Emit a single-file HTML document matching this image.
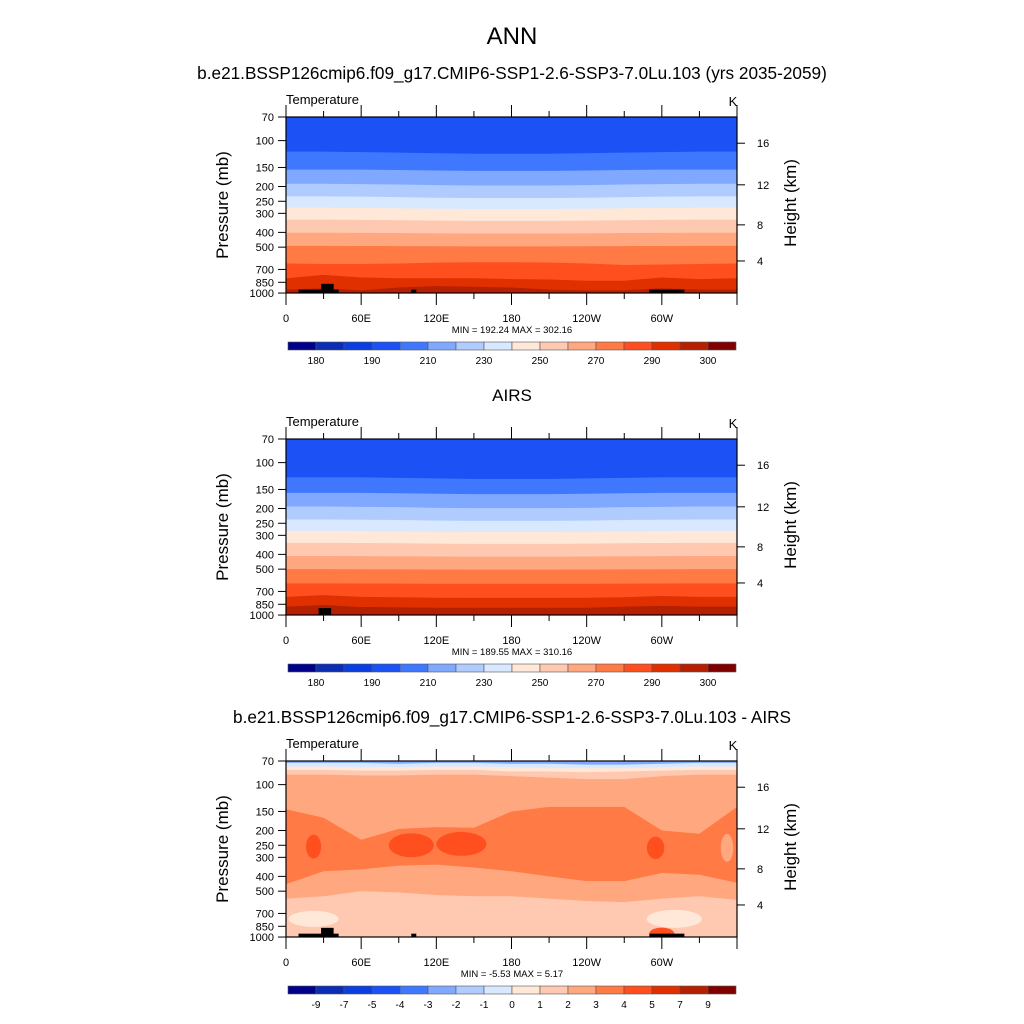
<!DOCTYPE html>
<html><head><meta charset="utf-8">
<style>
body{margin:0;background:#fff;}
svg{display:block;font-family:"Liberation Sans",sans-serif;}
</style></head>
<body>
<svg id="fig" width="1024" height="1024" viewBox="0 0 1024 1024" xmlns="http://www.w3.org/2000/svg">
<rect width="1024" height="1024" fill="#fff"/>
<text x="512" y="44" font-size="24" text-anchor="middle">ANN</text>
<text x="512" y="79" font-size="17.2" text-anchor="middle">b.e21.BSSP126cmip6.f09_g17.CMIP6-SSP1-2.6-SSP3-7.0Lu.103 (yrs 2035-2059)</text>
<text x="512" y="401" font-size="17" text-anchor="middle">AIRS</text>
<text x="512" y="723" font-size="17.2" text-anchor="middle">b.e21.BSSP126cmip6.f09_g17.CMIP6-SSP1-2.6-SSP3-7.0Lu.103 - AIRS</text>
</svg>
<script>
// ---- data ----
const colors = ["#00008a","#0a2db4","#0a3ee0","#1c52f5","#3f78ff","#80a8ff","#b0ccff","#d8e8ff","#ffe8d8","#ffc8b0","#ffa880","#ff7a45","#ff4f1e","#e03000","#b52000","#800000"];
const tempLabels = ["180","190","210","230","250","270","290","300"];
const tempLabelIdx = [1,3,5,7,9,11,13,15];
const diffLabels = ["-9","-7","-5","-4","-3","-2","-1","0","1","2","3","4","5","7","9"];
const pTicks = [70,100,150,200,250,300,400,500,700,850,1000];
const hTicks = [16,12,8,4];
const hTickP = [104,195,357,616];
const lonTicks = [0,60,120,180,240,300];
const lonLabels = ["0","60E","120E","180","120W","60W"];
const lons = [0,30,60,90,120,150,180,210,240,270,300,330,360];
// panel 1 band boundaries (pressure, mb)
const p1Idx = [4,5,6,7,8,9,10,11,12,13,14];
const p1B = [
 [118,118,119,120,121,122,122,122,121,120,119,118,118],
 [155,155,155,156,157,158,158,158,157,156,155,155,155],
 [192,192,193,194,196,197,197,197,196,194,193,192,192],
 [232,232,233,235,237,238,238,238,237,235,233,232,232],
 [275,275,276,278,280,281,281,281,280,278,276,275,275],
 [330,330,331,333,335,336,336,336,335,333,331,330,330],
 [402,402,403,404,406,407,407,407,406,404,403,402,402],
 [490,490,491,492,493,494,494,494,493,492,491,490,490],
 [640,645,645,640,632,628,628,630,640,655,650,645,640],
 [800,760,790,800,800,800,810,815,830,830,790,810,800],
 [950,930,960,920,900,910,920,950,960,960,930,950,950]];
const p1Min = "MIN = 192.24  MAX = 302.16";
// panel 2
const p2Idx = [4,5,6,7,8,9,10,11,12,13,14];
const p2B = [
 [125,125,125,126,127,128,128,128,127,126,125,125,125],
 [158,158,158,159,160,161,161,161,160,159,158,158,158],
 [194,194,195,196,198,199,199,199,198,196,195,194,194],
 [236,236,237,238,240,241,241,241,240,238,237,236,236],
 [280,280,281,282,284,285,285,285,284,282,281,280,280],
 [336,336,337,338,340,341,341,341,340,338,337,336,336],
 [410,410,411,412,413,414,414,414,413,412,411,410,410],
 [500,500,501,502,503,504,504,504,503,502,501,500,500],
 [620,620,621,622,624,625,625,625,624,622,621,620,620],
 [760,740,760,765,770,772,772,772,770,765,750,760,760],
 [880,860,885,890,895,895,895,895,895,880,870,880,880]];
const p2Min = "MIN = 189.55  MAX = 310.16";
// panel 3 (difference)
const p3TopIdx = [6,7,8,9,10];
const p3TopB = [
 [72,72,72,73,72,72,73,73,74,74,73,72,72],
 [76,76,77,77,76,76,77,78,78,78,77,76,76],
 [80,80,81,81,80,80,82,82,83,82,81,80,80],
 [86,86,87,87,86,86,88,90,92,92,88,86,86]];
const p3MidTop = [145,165,230,195,190,192,150,140,140,140,200,210,140];
const p3MidBot = [450,370,360,340,335,350,370,400,430,430,380,390,440];
const p3LowTop = [560,540,500,510,530,540,540,560,580,590,560,540,570];
const blobLon = [22,100,140,295,352];
const blobP = [255,250,245,260,260];
const blobW = [6,18,20,7,5];
const blobH = [30,30,30,28,35];
const blobIdx = [12,12,12,12,10];
const p3Min = "MIN =  -5.53  MAX =   5.17";

// ---- helpers ----
const NS="http://www.w3.org/2000/svg";
const svg=document.getElementById('fig');
const X0=286,X1=737,H=176;
const xs=l=>X0+(X1-X0)*l/360;
function ys(top){return p=>top+66.2*Math.log(p/70);}
function el(t,a,parent){const e=document.createElementNS(NS,t);for(const k in a)e.setAttribute(k,a[k]);(parent||svg).appendChild(e);return e;}

function drawPanel(top,cbTop,kind,mins){
  const y=ys(top);
  const g=el('g',{});
  
  
  const cp=el('clipPath',{id:'cp'+top},g);
  el('rect',{x:X0,y:top,width:X1-X0,height:H},cp);
  const fg=el('g',{'clip-path':'url(#cp'+top+')'},g);
  function band(arr,ci,bottomArr){
    let d='M'+xs(lons[0])+','+y(arr[0]);
    for(let i=1;i<lons.length;i++)d+=' L'+xs(lons[i])+','+y(arr[i]);
    if(bottomArr){for(let i=lons.length-1;i>=0;i--)d+=' L'+xs(lons[i])+','+y(bottomArr[i]);}
    else d+=' L'+X1+','+(top+H+2)+' L'+X0+','+(top+H+2);
    const p=el('path',{d:d+'Z',fill:colors[ci]},fg);
    
    
  }
  if(kind!=='diff'){
    const B=kind==='model'?p1B:p2B, I=kind==='model'?p1Idx:p2Idx;
    el('rect',{x:X0,y:top,width:X1-X0,height:H,fill:colors[3]},fg);
    B.forEach((a,i)=>band(a,I[i]));
  } else {
    el('rect',{x:X0,y:top,width:X1-X0,height:H,fill:colors[5]},fg);
    p3TopB.forEach((a,i)=>band(a,p3TopIdx[i+1]));
    band(p3MidTop,11,p3MidBot);
    band(p3LowTop,9);
    blobLon.forEach((l,i)=>{
      const e=el('ellipse',{cx:xs(l),cy:y(blobP[i]),rx:xs(blobW[i])-X0,ry:12*blobH[i]/30,fill:colors[blobIdx[i]]},fg);
      
      
    });
    el('ellipse',{cx:xs(22),cy:y(760),rx:xs(20)-X0,ry:8,fill:colors[8]},fg);
    el('ellipse',{cx:xs(310),cy:y(760),rx:xs(22)-X0,ry:9,fill:colors[8]},fg);
    el('ellipse',{cx:xs(300),cy:y(950),rx:xs(10)-X0,ry:6,fill:colors[12]},fg);
  }
  const topo=kind==='obs'?[[26,36,900]]:[[10,42,950],[28,38,870],[100,104,950],[290,318,950]];
  topo.forEach(t=>{const r=el('rect',{x:xs(t[0]),y:y(t[2]),width:xs(t[1])-xs(t[0]),height:top+H-y(t[2]),fill:'#000'},fg);
    });
  el('rect',{x:X0,y:top,width:X1-X0,height:H,fill:'none',stroke:'#000','stroke-width':1.2},g);
  pTicks.forEach(p=>{el('line',{x1:X0-8,x2:X0,y1:y(p),y2:y(p),stroke:'#000'},g);
    const t=el('text',{x:X0-12,y:y(p)+4,'font-size':11,'text-anchor':'end'},g);t.textContent=p;
    });
  hTicks.forEach((h,i)=>{const yy=y(hTickP[i]);el('line',{x1:X1,x2:X1+8,y1:yy,y2:yy,stroke:'#000'},g);
    const t=el('text',{x:X1+20,y:yy+4,'font-size':11},g);t.textContent=h;
    });
  for(let l=0;l<=360;l+=30){const maj=l%60===0,x=xs(l);
    el('line',{x1:x,x2:x,y1:top+H,y2:top+H+(maj?12:6),stroke:'#000'},g);
    el('line',{x1:x,x2:x,y1:top,y2:top-(maj?12:6),stroke:'#000'},g);}
  lonTicks.forEach((l,i)=>{const t=el('text',{x:xs(l),y:top+H+29,'font-size':11,'text-anchor':'middle'},g);t.textContent=lonLabels[i];
    });
  let t=el('text',{x:512,y:top+H+40,'font-size':9.5,'text-anchor':'middle'},g);t.textContent=mins;
  
  t=el('text',{x:X0,y:top-13,'font-size':13},g);t.textContent='Temperature';
  
  t=el('text',{x:733,y:top-11,'font-size':13,'text-anchor':'middle'},g);t.textContent='K';
  
  t=el('text',{x:0,y:0,'font-size':17,'text-anchor':'middle',transform:'translate(228,'+(top+88)+') rotate(-90)'},g);t.textContent='Pressure (mb)';
  
  t=el('text',{x:0,y:0,'font-size':17,'text-anchor':'middle',transform:'translate(796,'+(top+86)+') rotate(-90)'},g);t.textContent='Height (km)';
  
  const cb=el('g',{},g);
  
  colors.forEach((c,i)=>el('rect',{x:288+28*i,y:cbTop,width:28,height:8,fill:c,stroke:'#555','stroke-width':0.6},cb));
  if(kind==='diff'){
    diffLabels.forEach((s,i)=>{const tt=el('text',{x:288+28*(i+1),y:cbTop+22,'font-size':10,'text-anchor':'middle'},cb);tt.textContent=s;
      });
  } else {
    tempLabels.forEach((s,i)=>{const tt=el('text',{x:288+28*tempLabelIdx[i],y:cbTop+22,'font-size':10,'text-anchor':'middle'},cb);tt.textContent=s;
      });
  }
}
drawPanel(117,342,'model',p1Min);
drawPanel(439,664,'obs',p2Min);
drawPanel(761,986,'diff',p3Min);
</script>
</body></html>
